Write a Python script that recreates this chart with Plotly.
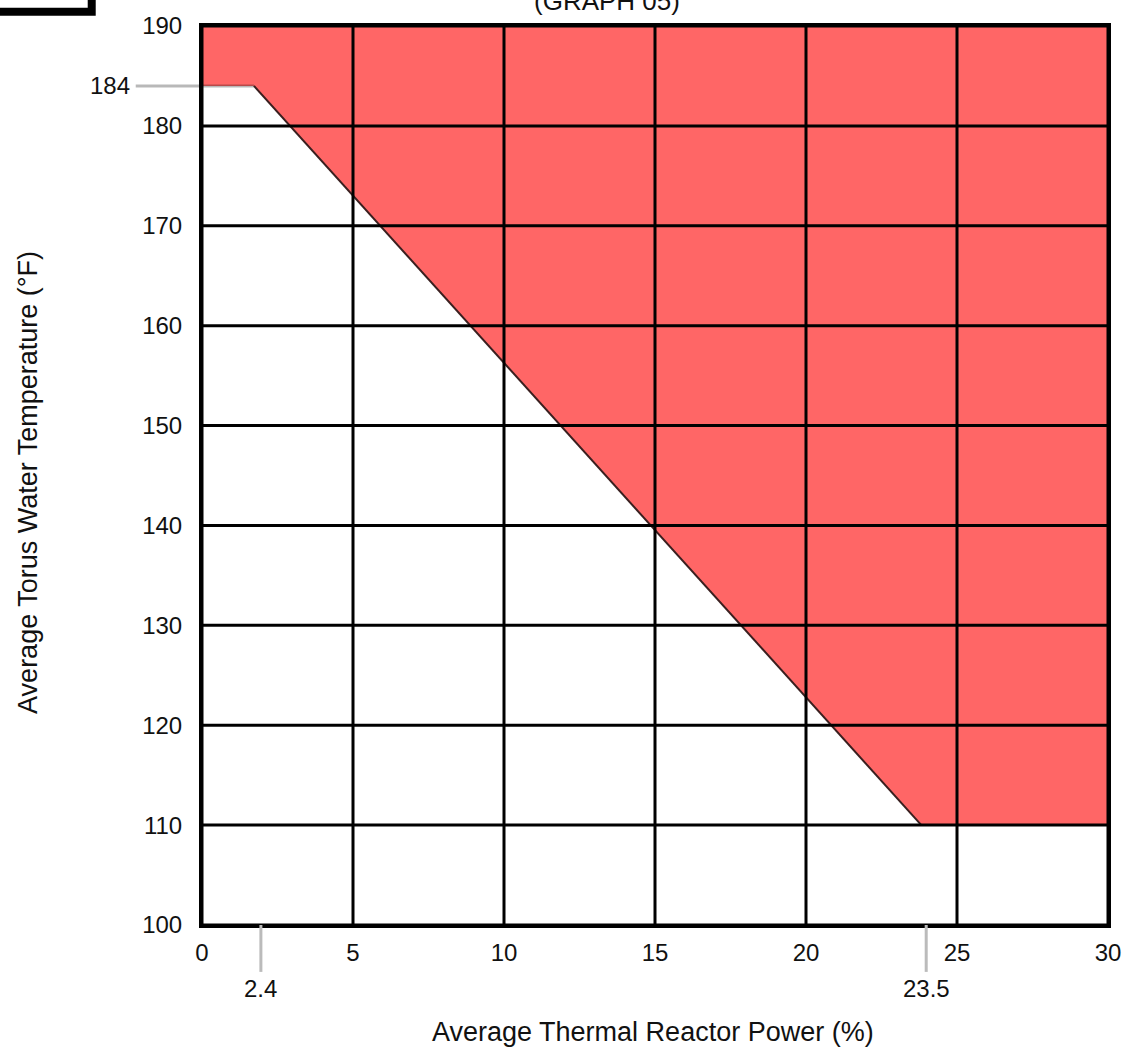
import plotly.graph_objects as go

# ---- data ----
x_ticks = [0, 5, 10, 15, 20, 25, 30]
y_ticks = [100, 110, 120, 130, 140, 150, 160, 170, 180, 190]

# limit curve (power %, torus temperature °F)
limit_power = [0, 1.72, 23.82, 30]
limit_temp = [184, 184, 110, 110]

# extra reference markers
ref_temp_value = 184
ref_temp_label = "184"
hline_temp = 150
hline_dark_from = 11.87
hline_dark_to = 28.4
power_marker_labels = ["2.4", "23.5"]
power_marker_pos = [1.95, 23.98]

title_text = "(GRAPH 05)"
x_title = "Average Thermal Reactor Power (%)"
y_title = "Average Torus Water Temperature (°F)"

X_MIN, X_MAX = 0, 30
Y_MIN, Y_MAX = 100, 190

FONT = "Liberation Sans, Arial, sans-serif"
RED = "#FF6666"

# ---- layout geometry ----
W, H = 1133, 1049
L, R, T, B = 202, 15, 24, 124
PW, PH = W - L - R, H - T - B


def px_to_paper_x(px):
    return (px - L) / PW


def px_to_paper_y(py):
    return (H - B - py) / PH


fig = go.Figure()

# red unsafe region
fill_x = [X_MIN] + limit_power + [X_MAX]
fill_y = [Y_MAX] + limit_temp + [Y_MAX]
fig.add_trace(go.Scatter(
    x=fill_x, y=fill_y, mode="lines", fill="toself",
    fillcolor=RED, line=dict(width=0), hoverinfo="skip", showlegend=False))

# dark sloped boundary
fig.add_trace(go.Scatter(
    x=limit_power[1:3], y=limit_temp[1:3], mode="lines",
    line=dict(color="#3a1f1f", width=2), hoverinfo="skip", showlegend=False))

shapes = []
# grid lines (drawn above the fill)
for xv in x_ticks:
    shapes.append(dict(type="line", xref="x", yref="y", x0=xv, x1=xv,
                       y0=Y_MIN, y1=Y_MAX, line=dict(color="black", width=3),
                       layer="above"))
for yv in y_ticks:
    shapes.append(dict(type="line", xref="x", yref="y", x0=X_MIN, x1=X_MAX,
                       y0=yv, y1=yv, line=dict(color="black", width=3),
                       layer="above"))

GREY = "rgba(0,0,0,0.28)"
# 150 °F horizontal reference line
shapes.append(dict(type="line", xref="x", yref="y", x0=X_MIN, x1=X_MAX,
                   y0=hline_temp, y1=hline_temp, line=dict(color=GREY, width=2),
                   layer="above"))
shapes.append(dict(type="line", xref="x", yref="y", x0=hline_dark_from,
                   x1=hline_dark_to, y0=hline_temp, y1=hline_temp,
                   line=dict(color=GREY, width=2), layer="above"))
# 184 °F leader line
shapes.append(dict(type="line", xref="paper", yref="y",
                   x0=px_to_paper_x(135), x1=limit_power[1] / (X_MAX - X_MIN),
                   y0=ref_temp_value, y1=ref_temp_value,
                   line=dict(color=GREY, width=3), layer="above"))
# power marker ticks
for xp in power_marker_pos:
    shapes.append(dict(type="line", xref="x", yref="paper", x0=xp, x1=xp,
                       y0=0, y1=px_to_paper_y(972),
                       line=dict(color="#bbbbbb", width=3), layer="above"))
# corner of a box at the top-left
shapes.append(dict(type="rect", xref="paper", yref="paper",
                   x0=-0.5, x1=px_to_paper_x(90.5),
                   y0=px_to_paper_y(9.7), y1=1.3,
                   line=dict(color="black", width=8), fillcolor="rgba(0,0,0,0)"))

annotations = []
annotations.append(dict(text=ref_temp_label, xref="paper", yref="y",
                        x=px_to_paper_x(131), y=ref_temp_value,
                        xanchor="right", yanchor="middle", showarrow=False,
                        font=dict(family=FONT, size=24, color="#111111")))
for lab, xp in zip(power_marker_labels, power_marker_pos):
    annotations.append(dict(text=lab, xref="x", yref="paper", x=xp,
                            y=px_to_paper_y(989), xanchor="center",
                            yanchor="middle", showarrow=False,
                            font=dict(family=FONT, size=24, color="#111111")))
annotations.append(dict(text=x_title, xref="paper", yref="paper",
                        x=px_to_paper_x(658), y=px_to_paper_y(1032),
                        xanchor="center", yanchor="middle", showarrow=False,
                        font=dict(family=FONT, size=27, color="#111111")))
annotations.append(dict(text=y_title, xref="paper", yref="paper",
                        x=px_to_paper_x(26), y=px_to_paper_y(481),
                        xanchor="center", yanchor="middle", textangle=-90,
                        showarrow=False,
                        font=dict(family=FONT, size=27, color="#111111")))
annotations.append(dict(text=title_text, xref="paper", yref="paper",
                        x=px_to_paper_x(611), y=px_to_paper_y(15.5),
                        xanchor="center", yanchor="bottom", showarrow=False,
                        font=dict(family=FONT, size=26, color="#111111")))

fig.update_layout(
    width=W, height=H,
    margin=dict(l=L, r=R, t=T, b=B, pad=0),
    paper_bgcolor="white", plot_bgcolor="white",
    shapes=shapes, annotations=annotations,
    showlegend=False,
    xaxis=dict(range=[X_MIN, X_MAX], tickvals=x_ticks,
               ticktext=[str(v) for v in x_ticks],
               showgrid=False, zeroline=False, showline=True, mirror=True,
               linecolor="black", linewidth=3, ticks="",
               ticklabelstandoff=4, ticklabeloverflow="allow",
               tickfont=dict(family=FONT, size=24, color="#111111"),
               fixedrange=True),
    yaxis=dict(range=[Y_MIN, Y_MAX], tickvals=y_ticks,
               ticktext=[str(v) for v in y_ticks],
               showgrid=False, zeroline=False, showline=True, mirror=True,
               linecolor="black", linewidth=3, ticks="",
               ticklabelstandoff=12,
               tickfont=dict(family=FONT, size=24, color="#111111"),
               fixedrange=True),
)

fig.write_html(
    "out.html",
    config={"displayModeBar": False},
    post_script="document.documentElement.style.overflow='hidden';"
                "document.body.style.margin='0';document.body.style.overflow='hidden';",
)
